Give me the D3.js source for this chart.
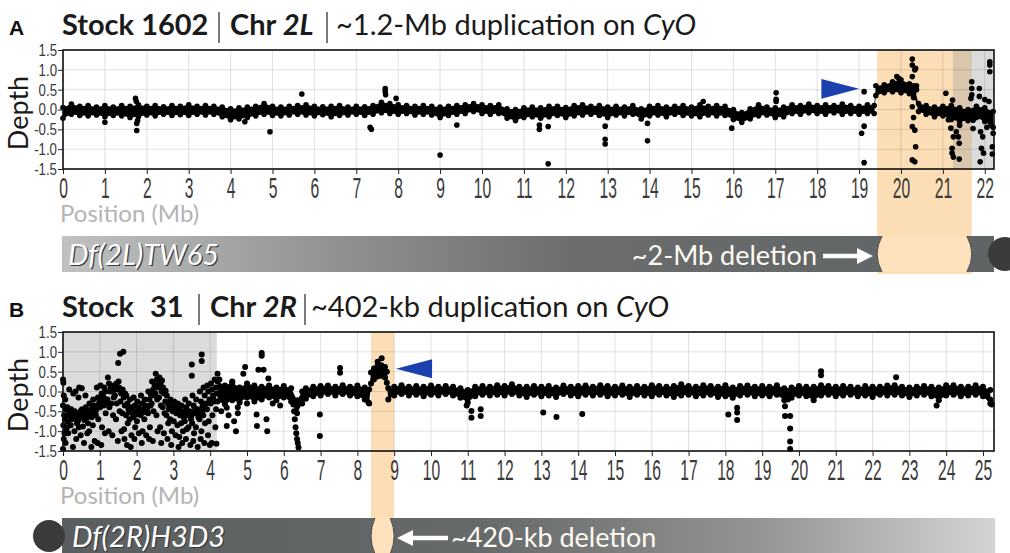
<!DOCTYPE html>
<html>
<head>
<meta charset="utf-8">
<script src="https://cdn.jsdelivr.net/npm/d3@7"></script>
<style>
  body { margin: 0; background: #fff; }
  svg { display: block; font-family: Lato, "Open Sans", sans-serif; }
</style>
</head>
<body>
<svg id="chart" width="1010" height="553"></svg>
<script>
// ---- data ----
const depthTicks = [-1.5, -1.0, -0.5, 0.0, 0.5, 1.0, 1.5];
const ticksA = [0,1,2,3,4,5,6,7,8,9,10,11,12,13,14,15,16,17,18,19,20,21,22];
const ticksB = [0,1,2,3,4,5,6,7,8,9,10,11,12,13,14,15,16,17,18,19,20,21,22,23,24,25];

// dense band of windows: [position Mb, lowest depth, highest depth]
const bandA = [
  [0,-0.22,0.05],[0.2,-0.12,0.14],[0.4,-0.15,0.08],[0.6,-0.16,0.1],[0.8,-0.14,0.06],
  [1.0,-0.18,0.1],[1.2,-0.15,0.06],[1.4,-0.16,0.1],[1.6,-0.2,0.08],[1.8,-0.18,0.12],
  [2.0,-0.14,0.08],[2.2,-0.16,0.1],[2.4,-0.12,0.07],[2.6,-0.15,0.1],[2.8,-0.13,0.08],
  [3.0,-0.15,0.12],[3.2,-0.12,0.08],[3.4,-0.14,0.1],[3.6,-0.12,0.08],[3.8,-0.18,0.06],
  [4.0,-0.26,0.02],[4.2,-0.24,0.04],[4.4,-0.2,0.06],[4.6,-0.16,0.08],[4.8,-0.12,0.15],
  [5.0,-0.15,0.08],[5.2,-0.16,0.06],[5.4,-0.14,0.08],[5.6,-0.12,0.1],[5.8,-0.14,0.12],
  [6.0,-0.16,0.08],[6.2,-0.13,0.07],[6.4,-0.18,0.08],[6.6,-0.15,0.1],[6.8,-0.14,0.06],
  [7.0,-0.12,0.08],[7.2,-0.15,0.07],[7.4,-0.12,0.1],[7.6,-0.08,0.18],[7.8,-0.1,0.15],
  [8.0,-0.12,0.12],[8.2,-0.1,0.1],[8.4,-0.14,0.08],[8.6,-0.12,0.1],[8.8,-0.14,0.08],
  [9.0,-0.2,0.06],[9.2,-0.15,0.08],[9.4,-0.12,0.1],[9.6,-0.1,0.12],[9.8,-0.05,0.15],
  [10.0,-0.1,0.12],[10.2,-0.12,0.1],[10.4,-0.1,0.12],[10.6,-0.22,0.02],[10.8,-0.28,0.0],
  [11.0,-0.2,0.04],[11.2,-0.18,0.06],[11.4,-0.22,0.04],[11.6,-0.18,0.08],[11.8,-0.15,0.08],
  [12.0,-0.2,0.05],[12.2,-0.16,0.1],[12.4,-0.14,0.12],[12.6,-0.12,0.08],[12.8,-0.15,0.1],
  [13.0,-0.2,0.06],[13.2,-0.14,0.08],[13.4,-0.16,0.06],[13.6,-0.12,0.1],[13.8,-0.24,0.02],
  [14.0,-0.16,0.08],[14.2,-0.14,0.1],[14.4,-0.18,0.06],[14.6,-0.12,0.08],[14.8,-0.15,0.1],
  [15.0,-0.16,0.06],[15.2,-0.18,0.12],[15.4,-0.14,0.08],[15.6,-0.16,0.1],[15.8,-0.15,0.08],
  [16.0,-0.25,0.0],[16.2,-0.32,-0.08],[16.4,-0.24,0.02],[16.6,-0.16,0.12],[16.8,-0.14,0.06],
  [17.0,-0.2,0.04],[17.2,-0.18,0.06],[17.4,-0.1,0.12],[17.6,-0.12,0.1],[17.8,-0.08,0.14],
  [18.0,-0.1,0.1],[18.2,-0.12,0.12],[18.4,-0.08,0.1],[18.6,-0.12,0.14],[18.8,-0.1,0.1],
  [19.0,-0.12,0.08],[19.2,-0.1,0.12],[19.36,-0.1,0.1],[19.4,0.35,0.6],[19.6,0.42,0.62],
  [19.8,0.45,0.7],[20.0,0.42,0.75],[20.2,0.4,0.65],[20.3,0.4,0.6],[20.42,-0.05,0.15],
  [20.6,-0.12,0.1],[20.8,-0.18,0.06],[21.0,-0.16,0.08],[21.2,-0.25,0.1],[21.4,-0.3,0.04],
  [21.6,-0.28,0.0],[21.8,-0.2,0.08],[22.0,-0.3,0.04],[22.2,-0.45,-0.05]
];

// isolated windows: [position Mb, depth]
const outA = [
  [1.0,-0.32],[1.73,0.28],[1.75,0.2],[1.76,-0.35],[1.76,-0.53],[1.78,-0.28],[4.34,-0.31],
  [4.94,-0.56],[5.7,0.39],[7.33,-0.45],[7.36,-0.5],[7.69,0.53],[7.69,0.45],[7.7,0.37],
  [7.95,0.28],[9.0,-1.15],[9.4,-0.39],[11.37,-0.39],[11.37,-0.5],[11.58,-0.43],[11.58,-1.37],
  [12.94,-0.42],[12.94,-0.75],[12.94,-0.87],[13.95,-0.35],[13.95,-0.79],[15.28,0.2],
  [15.96,-0.47],[17.02,0.42],[17.02,0.26],[17.02,0.2],[19.06,-0.6],[19.12,-0.42],
  [19.12,-1.34],[19.12,0.45],[19.9,0.83],[19.95,0.78],[20.27,1.27],[20.27,1.12],
  [20.35,1.04],[20.33,1.0],[20.27,0.83],[20.37,0.6],[20.37,0.5],[20.27,0.07],[20.27,-0.43],
  [20.33,-0.52],[20.35,-0.94],[20.27,-1.27],[20.33,-1.32],[20.3,0.3],[20.3,-0.2],
  [21.07,0.41],[21.13,-0.26],[21.19,-0.47],[21.25,-0.69],[21.22,-0.98],[21.22,-1.1],
  [21.25,-1.2],[21.39,-0.85],[21.39,-1.25],[21.23,0.24],[21.32,-0.56],[21.37,-0.69],
  [21.4,-0.4],[21.69,0.7],[21.69,0.53],[21.69,0.37],[21.67,0.28],[21.72,-0.27],[21.72,-0.48],
  [21.87,0.53],[21.87,0.33],[21.89,-1.32],[21.92,-0.98],[21.9,-0.56],[21.95,-0.69],
  [21.97,-1.1],[22.12,1.2],[22.12,1.12],[22.12,0.95],[22.1,0.2],[22.15,-0.39],[22.18,-0.94],
  [22.18,-1.12],[22.05,-0.45],[22.2,-0.6],[22.0,0.25]
];

const bandB = [
  [4.2,-0.25,0.25],[4.4,-0.32,0.15],[4.6,-0.22,0.22],[4.8,-0.28,0.1],[5.0,-0.15,0.2],
  [5.2,-0.25,0.15],[5.4,-0.2,0.12],[5.6,-0.15,0.15],[5.8,-0.22,0.1],[6.0,-0.15,0.14],
  [6.2,-0.25,0.08],[6.36,-0.55,-0.22],[6.5,-0.3,0.0],[6.6,-0.18,0.08],[6.8,-0.12,0.12],
  [7.0,-0.1,0.14],[7.2,-0.06,0.15],[7.4,-0.1,0.12],[7.6,-0.06,0.16],[7.8,-0.1,0.12],
  [8.0,-0.12,0.15],[8.2,-0.2,0.1],[8.32,-0.3,0.05],[8.37,0.2,0.48],[8.45,0.3,0.58],
  [8.55,0.38,0.64],[8.65,0.4,0.66],[8.75,0.35,0.62],[8.8,0.22,0.5],[8.84,-0.2,0.08],
  [9.0,-0.1,0.12],
  [9.2,-0.06,0.16],[9.4,-0.1,0.12],[9.6,-0.08,0.14],[9.8,-0.12,0.12],[10.0,-0.08,0.15],
  [10.2,-0.1,0.12],[10.4,-0.06,0.14],[10.6,-0.1,0.12],[10.8,-0.16,0.08],[11.0,-0.28,0.04],
  [11.2,-0.12,0.12],[11.4,-0.08,0.14],[11.6,-0.1,0.12],[11.8,-0.08,0.16],[12.0,-0.1,0.14],
  [12.2,-0.06,0.18],[12.4,-0.1,0.12],[12.6,-0.14,0.12],[12.8,-0.08,0.14],[13.0,-0.12,0.12],
  [13.2,-0.1,0.14],[13.4,-0.14,0.1],[13.6,-0.06,0.15],[13.8,-0.1,0.12],[14.0,-0.12,0.14],
  [14.2,-0.08,0.15],[14.4,-0.1,0.12],[14.6,-0.08,0.16],[14.8,-0.12,0.14],[15.0,-0.1,0.12],
  [15.2,-0.08,0.15],[15.4,-0.14,0.12],[15.6,-0.08,0.14],[15.8,-0.1,0.12],[16.0,-0.12,0.16],
  [16.2,-0.08,0.14],[16.4,-0.1,0.12],[16.6,-0.14,0.14],[16.8,-0.1,0.18],[17.0,-0.08,0.14],
  [17.2,-0.12,0.12],[17.4,-0.1,0.16],[17.6,-0.08,0.14],[17.8,-0.14,0.12],[18.0,-0.12,0.16],
  [18.2,-0.16,0.1],[18.4,-0.1,0.14],[18.6,-0.08,0.15],[18.8,-0.12,0.12],[19.0,-0.1,0.14],
  [19.2,-0.12,0.12],[19.4,-0.08,0.16],[19.6,-0.22,0.08],[19.8,-0.16,0.1],[20.0,-0.1,0.14],
  [20.2,-0.12,0.12],[20.4,-0.22,0.12],[20.6,-0.1,0.16],[20.8,-0.08,0.14],[21.0,-0.12,0.12],
  [21.2,-0.1,0.14],[21.4,-0.08,0.12],[21.6,-0.12,0.1],[21.8,-0.1,0.14],[22.0,-0.14,0.12],
  [22.2,-0.08,0.12],[22.4,-0.1,0.15],[22.6,-0.08,0.16],[22.8,-0.1,0.12],[23.0,-0.14,0.1],
  [23.2,-0.1,0.12],[23.4,-0.08,0.14],[23.6,-0.12,0.12],[23.8,-0.22,0.1],[24.0,-0.1,0.16],
  [24.2,-0.08,0.16],[24.4,-0.12,0.12],[24.6,-0.1,0.12],[24.8,-0.08,0.16],[25.0,-0.12,0.12],
  [25.2,-0.3,0.04]
];

// scattered windows in the low-coverage start of 2R: [position Mb, depth]
const cloudB = [
  [0.0,0.3],[0.01,0.22],[0.02,-0.1],[0.0,-0.35],[0.03,-0.6],[0.01,-0.85],[0.02,-1.2],[0.0,-1.45],
  [0.06,-0.2],[0.08,-0.45],[0.05,-0.7],[0.09,-0.95],[0.07,-1.3],[0.04,-1.05],
  [0.12,-0.4],[0.15,-0.55],[0.18,-0.62],[0.13,-0.75],[0.17,0.05],[0.14,-1.05],[0.19,-0.5],[0.11,-0.9],
  [0.22,-0.45],[0.26,-0.58],[0.24,-0.7],[0.28,-0.05],[0.21,-0.85],[0.27,-1.4],[0.25,-0.52],[0.29,-0.65],
  [0.32,-0.5],[0.35,-0.62],[0.38,-0.8],[0.31,-1.0],[0.36,-1.2],[0.34,0.0],[0.39,-0.56],[0.33,-0.68],
  [0.42,-0.15],[0.45,-0.55],[0.47,-0.66],[0.41,-0.74],[0.48,-1.1],[0.44,0.1],[0.49,-0.48],[0.43,-0.9],
  [0.52,-0.45],[0.55,-0.6],[0.58,-0.72],[0.51,0.08],[0.57,-1.3],[0.54,-0.88],[0.59,-0.52],
  [0.62,-0.4],[0.65,-0.58],[0.68,-0.8],[0.61,-0.1],[0.66,-1.05],[0.64,-0.66],[0.69,-0.5],
  [0.72,-0.3],[0.75,-0.5],[0.78,-0.65],[0.71,-1.0],[0.77,-1.4],[0.74,-0.58],[0.79,-0.42],
  [0.82,-0.2],[0.85,-0.35],[0.88,-0.55],[0.81,-0.85],[0.86,-1.25],[0.84,-0.45],[0.89,-0.6],
  [0.92,0.1],[0.95,-0.15],[0.98,-0.3],[0.91,-0.45],[0.96,-0.7],[0.94,-1.3],[0.99,-0.22],
  [1.02,0.15],[1.05,-0.05],[1.08,-0.25],[1.01,-0.4],[1.06,-0.9],[1.04,-1.35],[1.09,-0.12],
  [1.12,0.1],[1.15,0.0],[1.18,-0.2],[1.11,-0.35],[1.16,-0.55],[1.14,-1.05],[1.19,-0.28],
  [1.22,0.35],[1.25,0.2],[1.28,0.0],[1.21,-0.2],[1.26,-0.4],[1.24,-1.0],[1.29,0.08],
  [1.32,0.15],[1.35,0.0],[1.38,-0.15],[1.31,-0.3],[1.36,-0.6],[1.34,-1.1],[1.39,0.05],
  [1.45,0.2],[1.48,0.05],[1.41,-0.1],[1.46,-0.3],[1.44,-0.7],[1.49,-1.25],[1.43,0.12],
  [1.5,0.72],[1.55,0.95],[1.64,1.0],[1.52,0.1],[1.58,-0.05],[1.56,-0.25],[1.54,-0.5],[1.59,-1.0],[1.51,0.25],
  [1.62,0.05],[1.65,-0.15],[1.68,-0.35],[1.61,-0.55],[1.66,-0.95],[1.67,-1.2],[1.69,-0.05],
  [1.72,-0.1],[1.75,-0.3],[1.78,-0.45],[1.71,-0.6],[1.76,-0.8],[1.74,-1.35],[1.79,-0.52],
  [1.82,-0.2],[1.85,-0.4],[1.88,-0.55],[1.81,-0.7],[1.86,-1.1],[1.84,-1.4],[1.89,-0.48],
  [1.92,-0.15],[1.95,-0.35],[1.98,-0.5],[1.91,-0.65],[1.96,-0.9],[1.94,-1.2],[1.99,-0.58],
  [2.02,-0.25],[2.05,-0.4],[2.08,-0.55],[2.01,-0.75],[2.06,-1.05],[2.09,-0.46],
  [2.12,-0.1],[2.15,-0.3],[2.18,-0.45],[2.11,-0.6],[2.16,-1.0],[2.14,-1.3],[2.19,-0.52],
  [2.22,-0.2],[2.25,-0.35],[2.28,-0.5],[2.21,-0.7],[2.26,-1.1],[2.29,-0.42],
  [2.32,0.0],[2.35,-0.2],[2.38,-0.35],[2.31,-0.55],[2.36,-0.9],[2.34,-1.2],[2.39,-0.08],
  [2.42,0.25],[2.45,0.05],[2.48,-0.1],[2.41,-0.3],[2.46,-0.5],[2.44,-1.25],[2.49,0.15],
  [2.52,0.45],[2.55,0.3],[2.58,0.1],[2.51,-0.05],[2.56,-0.2],[2.54,-0.6],[2.57,-1.0],[2.59,0.2],
  [2.62,0.35],[2.65,0.2],[2.68,0.0],[2.61,-0.15],[2.66,-0.35],[2.64,-0.9],[2.67,-1.3],[2.69,0.28],
  [2.72,0.1],[2.75,-0.05],[2.78,-0.25],[2.71,-0.4],[2.76,-0.55],[2.74,-1.05],[2.79,0.02],
  [2.82,-0.1],[2.85,-0.3],[2.88,-0.45],[2.81,-0.6],[2.86,-0.8],[2.84,-1.2],[2.89,-0.38],
  [2.92,-0.2],[2.95,-0.35],[2.98,-0.5],[2.91,-0.7],[2.96,-1.0],[2.94,-1.35],[2.99,-0.42],
  [3.02,-0.25],[3.05,-0.4],[3.08,-0.55],[3.01,-0.75],[3.06,-1.1],[3.09,-0.48],
  [3.12,-0.3],[3.15,-0.45],[3.18,-0.6],[3.11,-0.85],[3.16,-1.15],[3.14,-1.4],[3.19,-0.52],
  [3.22,-0.35],[3.25,-0.5],[3.28,-0.65],[3.21,-0.8],[3.26,-1.0],[3.24,-1.3],[3.29,-0.58],
  [3.32,-0.2],[3.35,-0.4],[3.38,-0.6],[3.31,-0.75],[3.36,-0.95],[3.34,-1.2],[3.39,-0.5],
  [3.5,0.68],[3.5,0.4],[3.42,-0.3],[3.45,-0.5],[3.48,-0.7],[3.41,-0.9],[3.46,-1.35],[3.49,-0.6],
  [3.52,-0.1],[3.55,-0.35],[3.58,-0.55],[3.51,-0.8],[3.56,-1.05],[3.54,-1.25],[3.59,-0.45],
  [3.77,0.93],[3.77,0.77],[3.62,-0.2],[3.65,-0.45],[3.68,-0.65],[3.61,-0.9],[3.66,-1.4],[3.69,-0.55],
  [3.72,0.0],[3.75,-0.25],[3.78,-0.5],[3.71,-0.7],[3.76,-1.0],[3.74,-1.2],[3.79,-0.38],
  [3.82,0.1],[3.85,-0.1],[3.88,-0.3],[3.81,-0.6],[3.86,-0.8],[3.84,-1.3],[3.89,-0.45],
  [3.92,0.15],[3.95,0.0],[3.98,-0.2],[3.91,-0.45],[3.96,-0.75],[3.94,-1.1],[3.99,-1.35],
  [4.02,0.2],[4.05,0.05],[4.08,-0.1],[4.01,-0.3],[4.06,-0.6],[4.04,-1.3],[4.09,-0.2],
  [4.12,0.3],[4.15,0.1],[4.18,-0.05],[4.11,-0.25],[4.16,-0.45],[4.14,-0.9]
];

const outB = [
  [4.2,0.45],[4.25,0.3],[4.17,-1.32],[4.3,-0.5],[4.45,-0.41],[4.45,-0.87],[4.5,-0.6],
  [4.6,0.25],[4.7,-1.0],[4.65,-0.75],[4.75,-0.55],[4.75,-0.4],[4.95,0.62],[4.9,0.45],
  [5.0,-0.3],[5.26,-0.58],[5.27,-0.87],[5.31,0.55],[5.4,0.97],[5.4,0.9],[5.45,0.55],
  [5.53,-0.7],[5.55,-1.0],[5.58,0.33],[5.7,-0.3],[5.9,-0.35],[6.26,-0.33],[6.28,-0.5],
  [6.3,-0.7],[6.32,-0.9],[6.34,-1.05],[6.36,-1.2],[6.38,-1.3],[6.4,-1.41],[6.98,-0.58],
  [6.98,-1.12],[7.53,0.59],[7.53,0.47],[8.66,0.84],[8.55,0.75],[8.3,-0.28],[10.97,-0.35],
  [11.1,-0.49],[11.1,-0.66],[11.35,-0.45],[11.35,-0.62],[13.05,-0.53],[13.41,-0.64],
  [14.11,-0.57],[18.08,-0.58],[18.32,-0.41],[18.32,-0.53],[18.32,-0.72],[19.62,-0.37],
  [19.62,-0.62],[19.76,-0.62],[19.76,-0.93],[19.76,-1.26],[19.76,-1.45],[19.7,-0.2],
  [20.6,0.51],[20.6,0.41],[22.64,0.36],[23.74,-0.35],[25.24,-0.33],[25.2,-0.2]
];

// highlighted intervals (Mb)
const dupA = [19.43, 21.69], greyA = [21.24, 22.22];
const dupB = [8.37, 9.0],    greyB = [0, 4.18];
// blue arrowheads: [tip position, tip depth, base position, half height in depth]
const markA = [19.0, 0.52, 18.1, 0.25];
const markB = [9.05, 0.575, 10.03, 0.24];

// ---- drawing ----
const svg = d3.select("#chart");
const defs = svg.append("defs");

function grad(id, stops) {
  let lg = defs.append("linearGradient").attr("id", id);
  stops.forEach(s => lg.append("stop").attr("offset", s[0]).attr("stop-color", s[1]));
}
grad("barA", [["0%","#c0c1c1"],["30%","#8f9191"],["55%","#6c6e6e"],["100%","#5f6363"]]);
grad("barB", [["0%","#5a5e5e"],["45%","#676a6a"],["75%","#939494"],["100%","#d4d4d4"]]);

const ORANGE = "#fcdeb6";
const DOT = "#000";

function panel(p) {
  let g = svg.append("g").attr("transform", "translate(0," + p.dy + ")");
  let x = d3.scaleLinear().domain([0, p.xmax]).range([63, 994]),
      y = d3.scaleLinear().domain([-1.5, 1.5]).range([169, 50]);
  const barTop = 236, barBot = 272;

  // title
  g.append("text").attr("x", 9).attr("y", 35)
    .style("font-family", "'Liberation Sans', Arial, sans-serif")
    .style("font-weight", "bold").style("font-size", "21px").attr("fill", "#111")
    .text(p.letter);
  p.title.forEach(t => {
    let te = g.append("text").attr("x", t.x).attr("y", 35)
      .style("font-size", "29px").attr("fill", "#1a1a1a");
    t.parts.forEach(s => {
      te.append("tspan").text(s[0])
        .style("font-weight", s[1] ? "bold" : "normal")
        .style("font-style", s[2] ? "italic" : "normal");
    });
  });
  p.seps.forEach(sx => {
    g.append("line").attr("x1", sx).attr("x2", sx).attr("y1", 12).attr("y2", 43)
      .attr("stroke", "#333").attr("stroke-width", 1.3);
  });

  // shaded regions
  g.append("rect").attr("x", x(p.dup[0])).attr("width", x(p.dup[1]) - x(p.dup[0]))
    .attr("y", 50).attr("height", barBot - 50 + 2).attr("fill", ORANGE);
  g.append("rect").attr("x", x(p.grey[0])).attr("width", x(p.grey[1]) - x(p.grey[0]))
    .attr("y", 50).attr("height", 119).attr("fill", "#9a9a9a").attr("fill-opacity", 0.36);

  // grid
  g.append("g").selectAll("line").data(p.ticks).join("line")
    .attr("x1", d => x(d)).attr("x2", d => x(d)).attr("y1", 50).attr("y2", 169)
    .attr("stroke", "#000").attr("stroke-opacity", 0.12);
  g.append("g").selectAll("line").data(depthTicks).join("line")
    .attr("x1", 63).attr("x2", 994).attr("y1", d => y(d)).attr("y2", d => y(d))
    .attr("stroke", "#000").attr("stroke-opacity", 0.12);

  // points
  let pts = g.append("g").attr("fill", DOT);
  let area = d3.area().x(d => x(d[0])).y0(d => y(d[1])).y1(d => y(d[2]));
  pts.append("path").datum(p.band).attr("d", area);
  let edge = [];
  p.band.forEach(d => { edge.push([d[0], d[1]]); edge.push([d[0], d[2]]); });
  (p.cloud || []).forEach(d => edge.push(d));
  p.out.forEach(d => edge.push(d));
  pts.selectAll("circle").data(edge).join("circle")
    .attr("cx", d => x(d[0])).attr("cy", d => y(d[1])).attr("r", p.r);

  // frame
  g.append("rect").attr("x", 63).attr("y", 50).attr("width", 931).attr("height", 119)
    .attr("fill", "none").attr("stroke", "#111").attr("stroke-width", 1.6);

  // axes
  let ax = g.append("g").attr("transform", "translate(0,169)")
    .call(d3.axisBottom(x).tickValues(p.ticks).tickSize(5).tickFormat(d => d));
  ax.select(".domain").remove();
  ax.selectAll("line").attr("stroke", "#222");
  ax.selectAll("text").attr("y", 8).attr("transform", "scale(0.54,1)")
    .style("font-size", "29px").attr("fill", "#3a3a3a");

  let ay = g.append("g").attr("transform", "translate(63,0)")
    .call(d3.axisLeft(y).tickValues(depthTicks).tickSize(5).tickFormat(d => d.toFixed(1)));
  ay.select(".domain").remove();
  ay.selectAll("line").attr("stroke", "#222");
  ay.selectAll("text").attr("x", -6 / 0.78).attr("transform", "scale(0.78,1)")
    .style("font-size", "17px").attr("fill", "#3a3a3a");

  g.append("text").attr("transform", "translate(28,113) rotate(-90)")
    .attr("text-anchor", "middle").style("font-size", "27px").attr("fill", "#1a1a1a")
    .text("Depth");
  g.append("text").attr("x", 60).attr("y", 222).style("font-size", "24px")
    .attr("fill", "#b4b4b4").text("Position (Mb)");

  // blue arrowhead
  let m = p.mark;
  g.append("path").attr("fill", "#1c40ad")
    .attr("d", "M" + x(m[0]) + "," + y(m[1]) + "L" + x(m[2]) + "," + y(m[1] + m[3]) +
               "L" + x(m[2]) + "," + y(m[1] - m[3]) + "Z");

  // chromosome bar
  let b = p.bar;
  g.append("rect").attr("x", b.x0).attr("width", b.x1 - b.x0).attr("y", barTop)
    .attr("height", barBot - barTop).attr("fill", "url(#" + b.fill + ")");
  g.append("circle").attr("cx", b.cx).attr("cy", 254).attr("r", b.cr).attr("fill", "#3b3b3b");

  let lx0 = x(p.dup[0]), lx1 = x(p.dup[1]), ins = b.ins, mid = (barTop + barBot) / 2;
  g.append("path").attr("fill", "#fde2bd")
    .attr("d", "M" + (lx0 + ins) + "," + barTop + "Q" + (lx0 - ins) + "," + mid + " " + (lx0 + ins) + "," + barBot +
               "L" + (lx1 - ins) + "," + barBot + "Q" + (lx1 + ins) + "," + mid + " " + (lx1 - ins) + "," + barTop + "Z");
  [[lx0, 1], [lx1, -1]].forEach(e => {
    g.append("path").attr("fill", "none").attr("stroke", "#4a4a4a").attr("stroke-width", 1)
      .attr("d", "M" + (e[0] + e[1] * ins) + "," + barTop + "Q" + (e[0] - e[1] * ins) + "," + mid + " " + (e[0] + e[1] * ins) + "," + barBot);
  });

  // bar labels
  g.append("text").attr("x", b.nameX + 1.2).attr("y", 266.2).style("font-size", "29px")
    .style("font-style", "italic").attr("fill", "#3a3a3a").text(b.name);
  g.append("text").attr("x", b.nameX).attr("y", 265).style("font-size", "29px")
    .style("font-style", "italic").attr("fill", "#fff").text(b.name);
  g.append("text").attr("x", b.labX).attr("y", 265).attr("text-anchor", b.labAnchor)
    .style("font-size", "27px").attr("fill", "#fffaf2").text(b.label);
  let a = b.arrow, dir = Math.sign(a[1] - a[0]), ay0 = 256;
  g.append("line").attr("x1", a[0]).attr("x2", a[1] - dir * 14).attr("y1", ay0).attr("y2", ay0)
    .attr("stroke", "#fff").attr("stroke-width", 4.5);
  g.append("path").attr("fill", "#fff")
    .attr("d", "M" + a[1] + "," + ay0 + "L" + (a[1] - dir * 16) + "," + (ay0 - 8) + "L" + (a[1] - dir * 16) + "," + (ay0 + 8) + "Z");
}

panel({
  dy: 0, letter: "A", xmax: 22.22, ticks: ticksA, band: bandA, out: outA, r: 2.8,
  dup: dupA, grey: greyA, mark: markA,
  title: [
    { x: 62, parts: [["Stock 1602", 1, 0]] },
    { x: 230, parts: [["Chr ", 1, 0], ["2L", 1, 1]] },
    { x: 336, parts: [["~1.2-Mb duplication on ", 0, 0], ["CyO", 0, 1]] }
  ],
  seps: [219, 327],
  bar: { x0: 62, x1: 994, cx: 1005, cr: 17, fill: "barA", ins: 5,
         name: "Df(2L)TW65", nameX: 68, label: "~2-Mb deletion", labX: 817, labAnchor: "end",
         arrow: [823, 873] }
});

panel({
  dy: 282, letter: "B", xmax: 25.3, ticks: ticksB, band: bandB, cloud: cloudB, out: outB, r: 3,
  dup: dupB, grey: greyB, mark: markB,
  title: [
    { x: 62, parts: [["Stock", 1, 0]] },
    { x: 150, parts: [["31", 1, 0]] },
    { x: 210, parts: [["Chr ", 1, 0], ["2R", 1, 1]] },
    { x: 311, parts: [["~402-kb duplication on ", 0, 0], ["CyO", 0, 1]] }
  ],
  seps: [199, 305],
  bar: { x0: 62, x1: 995, cx: 49, cr: 16, fill: "barB", ins: 4,
         name: "Df(2R)H3D3", nameX: 72, label: "~420-kb deletion", labX: 451, labAnchor: "start",
         arrow: [448, 397] }
});
</script>
</body>
</html>
